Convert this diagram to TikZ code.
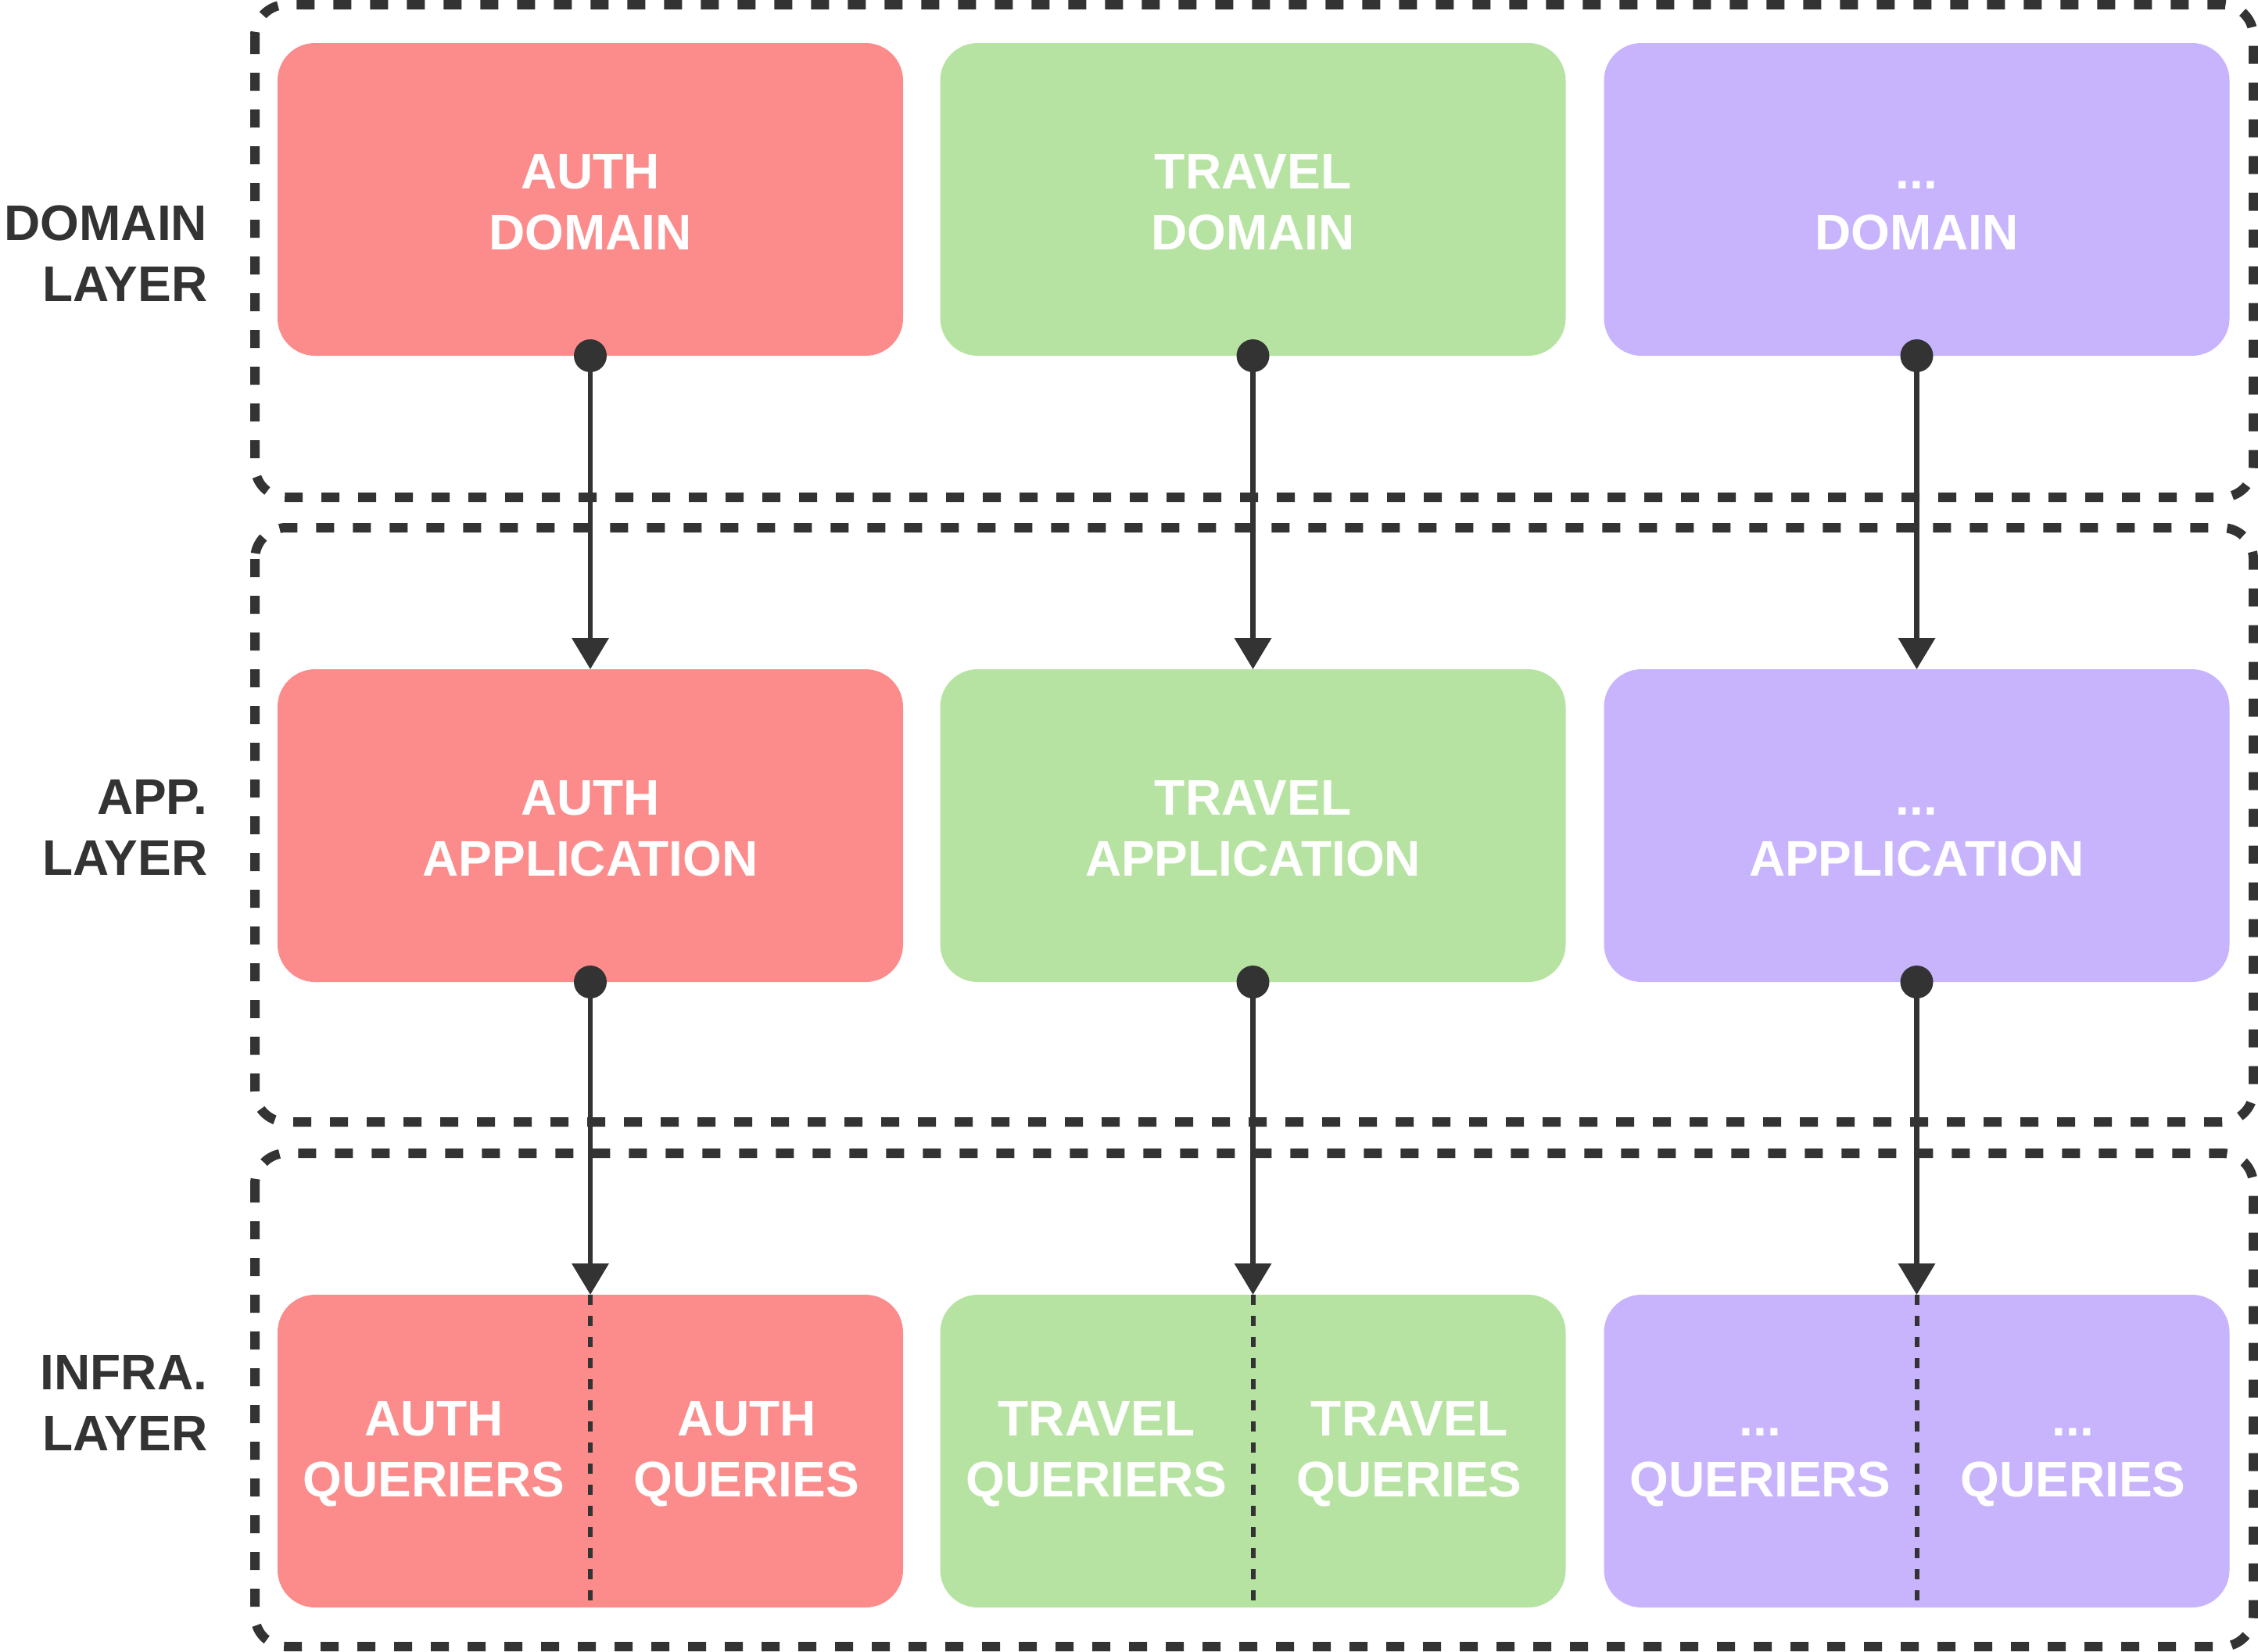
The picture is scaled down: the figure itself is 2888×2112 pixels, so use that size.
\documentclass[tikz,border=0pt]{standalone}
\usepackage{fontspec}
\setmainfont{Liberation Sans}
\usetikzlibrary{arrows.meta}
\definecolor{dk}{HTML}{333333}
\definecolor{cred}{HTML}{FC8B8B}
\definecolor{cgreen}{HTML}{B7E3A2}
\definecolor{cpurple}{HTML}{C8B3FD}
\newcommand{\labfont}{\fontsize{16}{19.5}\selectfont\bfseries}
\newcommand{\capph}{\vphantom{A}}
\begin{document}
\begin{tikzpicture}[x=0.25pt,y=-0.25pt,
 layerbox/.style={draw=dk, line width=3pt, dash pattern=on 5.75pt off 6pt, rounded corners=10pt},
 comp/.style={rectangle, rounded corners=12pt, minimum width=200pt, minimum height=100pt, inner sep=0pt, outer sep=0pt},
 txt/.style={inner sep=0pt, text=white, font=\labfont, align=center},
 lbl/.style={anchor=east, inner sep=0pt, text=dk, font=\labfont, align=right},
 flow/.style={draw=dk, line width=1.7pt, -{Triangle[width=11.5pt,length=10pt]}},
 startdot/.style={fill=dk},
 divider/.style={draw=dk, line width=1.5pt, dash pattern=on 3.25pt off 3.5pt}
]
\useasboundingbox (0,0) rectangle (2888,2112);

% layer containers
\draw[layerbox] (326,6) rectangle (2882,636);
\draw[layerbox] (326,675) rectangle (2882,1435);
\draw[layerbox] (326,1475) rectangle (2882,2106);

% layer labels
\node[lbl] (l1) at (266,324) {DOMAIN\\LAYER};
\node[lbl] (l2) at (266,1058) {APP.\\LAYER};
\node[lbl] (l3) at (266,1794) {INFRA.\\LAYER};

% domain row
\node[comp, fill=cred] (ad) at (755,255) {};
\node[comp, fill=cgreen] (td) at (1602.5,255) {};
\node[comp, fill=cpurple] (xd) at (2451.5,255) {};
\node[txt] (adt) at (755,259) {AUTH\\DOMAIN};
\node[txt] (tdt) at (1602.5,259) {TRAVEL\\DOMAIN};
\node[txt] (xdt) at (2451.5,259) {\capph...\\DOMAIN};

% application row
\node[comp, fill=cred] (aa) at (755,1056) {};
\node[comp, fill=cgreen] (ta) at (1602.5,1056) {};
\node[comp, fill=cpurple] (xa) at (2451.5,1056) {};
\node[txt] (aat) at (755,1060) {AUTH\\APPLICATION};
\node[txt] (tat) at (1602.5,1060) {TRAVEL\\APPLICATION};
\node[txt] (xat) at (2451.5,1060) {\capph...\\APPLICATION};

% infrastructure row
\node[comp, fill=cred] (ai) at (755,1856) {};
\node[comp, fill=cgreen] (ti) at (1602.5,1856) {};
\node[comp, fill=cpurple] (xi) at (2451.5,1856) {};

\node[txt] (aqr) at (555,1860) {AUTH\\QUERIERS};
\node[txt] (aqs) at (955,1860) {AUTH\\QUERIES};
\node[txt] (tqr) at (1402.5,1860) {TRAVEL\\QUERIERS};
\node[txt] (tqs) at (1802.5,1860) {TRAVEL\\QUERIES};
\node[txt] (xqr) at (2251.5,1860) {\capph...\\QUERIERS};
\node[txt] (xqs) at (2651.5,1860) {\capph...\\QUERIES};

\draw[divider] (ai.north) -- (ai.south);
\draw[divider] (ti.north) -- (ti.south);
\draw[divider] (xi.north) -- (xi.south);

% connectors
\foreach \u/\v in {ad/aa, td/ta, xd/xa, aa/ai, ta/ti, xa/xi}{
  \draw[flow] (\u.south) -- (\v.north);
  \fill[startdot] (\u.south) circle[radius=5.25pt];
}
\end{tikzpicture}
\end{document}
